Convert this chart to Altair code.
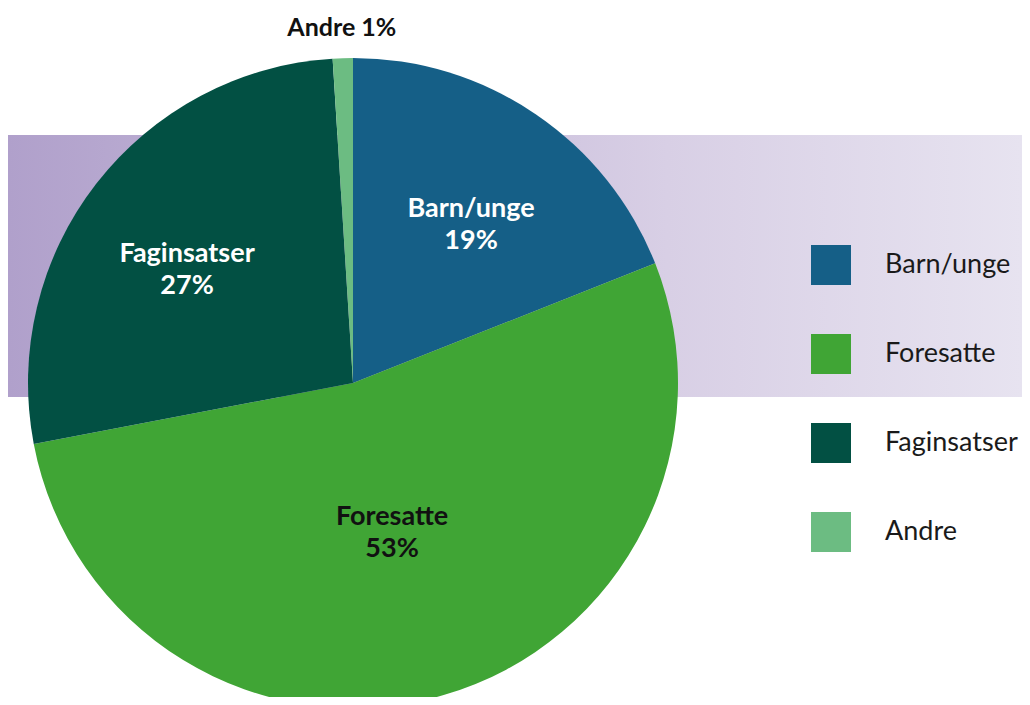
import altair as alt
import pandas as pd

categories = ["Barn/unge", "Foresatte", "Faginsatser", "Andre"]
values = [19, 53, 27, 1]
colors = ["#155f87", "#40a535", "#025043", "#6cbc82"]

df = pd.DataFrame({
    "Kategori": categories,
    "Andel": values,
    "idx": list(range(len(categories))),
})

W, H = 1014, 689
CX, CY = 345, 375
R = 325

band = alt.Chart(pd.DataFrame({"a": [0]})).mark_rect(
    color=alt.Gradient(
        gradient="linear",
        stops=[alt.GradientStop(color="#b0a0cb", offset=0),
               alt.GradientStop(color="#d8cfe5", offset=0.65),
               alt.GradientStop(color="#e7e3f0", offset=1)],
        x1=0, x2=1, y1=0, y2=0,
    )
).encode(x=alt.value(0), x2=alt.value(W), y=alt.value(127), y2=alt.value(389))

base = alt.Chart(df).encode(
    theta=alt.Theta("Andel:Q", stack=True),
    order=alt.Order("idx:Q"),
    x=alt.value(CX),
    y=alt.value(CY),
)

pie = base.mark_arc(outerRadius=R).encode(
    color=alt.Color(
        "Kategori:N",
        scale=alt.Scale(domain=categories, range=colors),
        sort=categories,
        legend=alt.Legend(
            orient="none", legendX=803, legendY=237, title=None,
            symbolType="square", symbolSize=1600, symbolStrokeWidth=0,
            symbolOpacity=1, labelFontSize=27, labelFont="Lato",
            labelOffset=34, rowPadding=49, labelColor="#1a1a1a",
            labelLimit=300,
        ),
    )
)

text_props = dict(font="Lato", fontWeight="bold", fontSize=27,
                  lineBreak="\n", lineHeight=32, align="center",
                  baseline="middle")

# labels for Barn/unge and Faginsatser (white)
light = base.transform_calculate(
    label="(datum.Kategori == 'Barn/unge' || datum.Kategori == 'Faginsatser') ? datum.Kategori + '\\n' + datum.Andel + '%' : ''"
).mark_text(radius=210, color="#ffffff", **text_props).encode(
    text="label:N", detail="Kategori:N",
)

# label for Foresatte (dark)
dark = base.transform_calculate(
    label="datum.Kategori == 'Foresatte' ? datum.Kategori + '\\n' + datum.Andel + '%' : ''"
).mark_text(radius=140, color="#111111", **text_props).encode(
    text="label:N", detail="Kategori:N",
)

outer = base.transform_calculate(
    label="datum.Kategori == 'Andre' ? datum.Kategori + ' ' + datum.Andel + '%' : ''"
).mark_text(
    radius=355, font="Lato", fontWeight="bold", fontSize=25,
    align="center", baseline="middle", color="#111111",
).encode(
    text="label:N", detail="Kategori:N",
)

chart = alt.layer(band, pie, light, dark, outer).properties(
    width=W, height=H,
    autosize=alt.AutoSizeParams(type="none"),
    padding=0,
).configure_view(stroke=None)

chart.save("out.html", embed_options={"renderer": "svg", "actions": False})
